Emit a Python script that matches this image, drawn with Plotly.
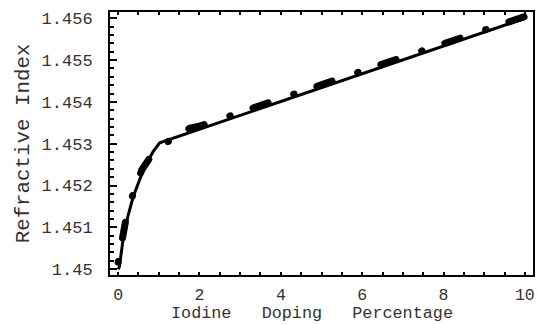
import plotly.graph_objects as go

# Fitted curve (solid)
fit_x = [0, 0.03, 0.13, 0.25, 0.37, 0.5, 0.62, 0.75, 0.86, 1.02, 10]
fit_y = [1.45000, 1.45005, 1.45077, 1.45130, 1.45173, 1.45207, 1.45237,
         1.45262, 1.45281, 1.45302, 1.45600]

# Measured data (thick dashed)
data_x = [0, 0.05, 0.09, 0.21, 0.37, 0.58, 0.75, 0.9, 1.0, 1.31, 1.5, 1.76,
          2.0, 2.25, 2.5, 3.0, 3.5, 4.0, 4.5, 5.0, 5.5, 6.0, 6.5, 7.0, 7.5,
          8.0, 8.5, 9.0, 9.5, 10.0]
data_y = [1.45017, 1.45050, 1.45077, 1.45129, 1.45181, 1.45237, 1.45262,
          1.45279, 1.45295, 1.45309, 1.45322, 1.45337, 1.45342, 1.45349,
          1.45358, 1.45375, 1.45392, 1.45408, 1.45424, 1.45440, 1.45457,
          1.45473, 1.45490, 1.45507, 1.45523, 1.45540, 1.45556, 1.45572,
          1.45589, 1.45604]

x_ticks = [0, 2, 4, 6, 8, 10]
x_labels = ["0", "2", "4", "6", "8", "10"]
y_ticks = [1.450, 1.451, 1.452, 1.453, 1.454, 1.455, 1.456]
y_labels = ["1.45", "1.451", "1.452", "1.453", "1.454", "1.455", "1.456"]
x_title = "Iodine\u00a0\u00a0\u00a0Doping\u00a0\u00a0\u00a0Percentage"
y_title = "Refractive Index"

FONT = "Liberation Mono, Courier New, monospace"
TXT = "#333333"

fig = go.Figure()
fig.add_trace(go.Scatter(x=fit_x, y=fit_y, mode="lines",
                         line=dict(color="black", width=3),
                         hoverinfo="skip", showlegend=False))
fig.add_trace(go.Scatter(x=data_x, y=data_y, mode="lines",
                         line=dict(color="black", width=7,
                                   dash="0.5px,24px,16px,27px"),
                         hoverinfo="skip", showlegend=False))

xr = [-0.2, 10.2]
yr = [1.44986, 1.45615]

fig.update_layout(
    width=537, height=324,
    margin=dict(l=110, r=2, t=12, b=49),
    paper_bgcolor="white", plot_bgcolor="white",
    font=dict(family=FONT, size=17, color=TXT),
    xaxis=dict(range=xr, tickvals=x_ticks, ticktext=x_labels,
               ticks="inside", ticklen=3, tickwidth=2, tickcolor="black",
               minor=dict(dtick=0.5, ticks="inside", ticklen=3,
                          tickwidth=2, tickcolor="black"),
               showline=True, linewidth=2, linecolor="black", mirror="ticks",
               showgrid=False, zeroline=False, ticklabelstandoff=3,
               tickfont=dict(size=16.5, color=TXT)),
    yaxis=dict(range=yr, tickvals=y_ticks, ticktext=y_labels,
               ticks="inside", ticklen=7, tickwidth=2, tickcolor="black",
               minor=dict(dtick=0.0002, tick0=1.45, ticks="inside", ticklen=4,
                          tickwidth=2, tickcolor="black"),
               showline=True, linewidth=2, linecolor="black", mirror=True,
               showgrid=False, zeroline=False, ticklabelstandoff=12,
               title=dict(text=y_title,
                          font=dict(size=20.8, color=TXT), standoff=6),
               tickfont=dict(size=17, color=TXT)),
    yaxis2=dict(range=yr, overlaying="y", side="right", anchor="x",
                tickvals=y_ticks, showticklabels=False,
                ticks="inside", ticklen=3, tickwidth=2, tickcolor="black",
                minor=dict(dtick=0.0002, tick0=1.45, ticks="inside", ticklen=3,
                           tickwidth=2, tickcolor="black"),
                showline=False, showgrid=False, zeroline=False),
    annotations=[dict(text=x_title, xref="paper", yref="paper",
                      x=(313 - 110) / 425, y=-38 / 263,
                      xanchor="center", yanchor="middle", showarrow=False,
                      font=dict(size=16.8, color=TXT, family=FONT))],
)

post = ("document.querySelectorAll('.scatterlayer .trace').forEach(function(t,i){"
        "if(i==1){t.querySelectorAll('path.js-line').forEach(function(p){"
        "p.style.strokeLinecap='round';p.style.strokeLinejoin='round';});}});")

fig.write_html("out.html", post_script=post)
